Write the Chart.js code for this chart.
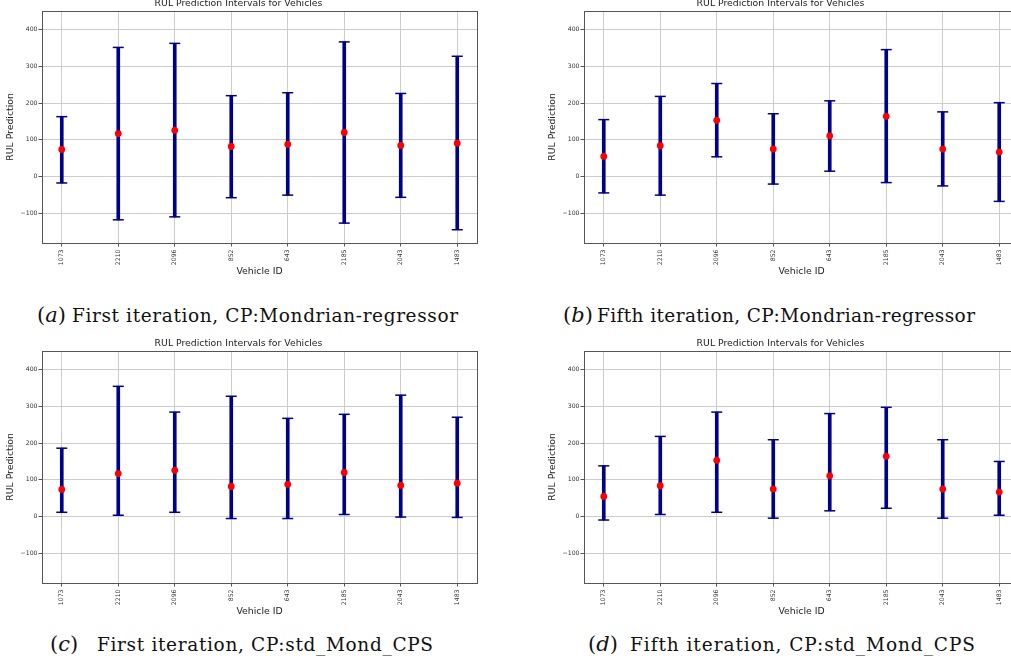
<!DOCTYPE html>
<html>
<head>
<meta charset="utf-8">
<script src="https://cdn.jsdelivr.net/npm/chart.js@4.4.1/dist/chart.umd.min.js"></script>
<style>
  body { margin: 0; width: 1011px; height: 669px; overflow: hidden; background: #fff; position: relative; }
  canvas { position: absolute; }
  .tag, .cap { position: absolute; white-space: nowrap; line-height: 1; color: #111; font-family: "DejaVu Serif", serif; }
  .tag { font-size: 21px; }
  .cap { font-size: 18.5px; }
</style>
</head>
<body>
<canvas id="pa" width="497" height="288" style="left:0px;top:-5px"></canvas>
<canvas id="pb" width="497" height="288" style="left:542px;top:-5px"></canvas>
<canvas id="pc" width="497" height="288" style="left:0px;top:335px"></canvas>
<canvas id="pd" width="497" height="288" style="left:542px;top:335px"></canvas>

<div class="tag" style="left:37px;top:305px">(<i>a</i>)</div>
<div class="cap" data-w="386" style="left:72px;top:307px">First iteration, CP:Mondrian-regressor</div>
<div class="tag" style="left:563px;top:305px">(<i>b</i>)</div>
<div class="cap" data-w="378" style="left:597px;top:307px">Fifth iteration, CP:Mondrian-regressor</div>
<div class="tag" style="left:50px;top:634px">(<i>c</i>)</div>
<div class="cap" data-w="336" style="left:97px;top:636px">First iteration, CP:std_Mond_CPS</div>
<div class="tag" style="left:588px;top:634px">(<i>d</i>)</div>
<div class="cap" data-w="345" style="left:630px;top:636px">Fifth iteration, CP:std_Mond_CPS</div>

<script>
// vehicles on the x axis, in plotting order
const vehicleIds = ['1073', '2210', '2096', '852', '643', '2185', '2043', '1483'];
const yTickValues = [-100, 0, 100, 200, 300, 400];

// point predictions (same model output for both CP methods)
const predFirst = [74, 117, 126, 82, 88, 120, 85, 91];
const predFifth = [55, 84, 153, 75, 111, 164, 75, 67];

// Mondrian regressor intervals
const mondFirstLow  = [-17, -117, -109, -57, -50, -126, -56, -144];
const mondFirstHigh = [163, 351, 362, 220, 228, 366, 226, 327];
const mondFifthLow  = [-44, -50, 54, -20, 15, -16, -25, -67];
const mondFifthHigh = [155, 218, 253, 171, 206, 345, 176, 201];

// std Mondrian CPS intervals
const cpsFirstLow  = [12, 4, 12, -5, -5, 6, -1, -2];
const cpsFirstHigh = [186, 354, 284, 327, 267, 278, 330, 270];
const cpsFifthLow  = [-9, 6, 12, -4, 16, 23, -4, 4];
const cpsFifthHigh = [138, 218, 284, 209, 280, 297, 209, 150];

Chart.defaults.font.family = 'DejaVu Sans';
Chart.defaults.color = '#222';

const NAVY = '#00008b';

// stretch caption lines to their set widths
document.querySelectorAll('.cap').forEach(el => {
  const w = el.getBoundingClientRect().width;
  const n = el.textContent.length - 1;
  el.style.letterSpacing = ((+el.dataset.w - w) / n) + 'px';
});

// matplotlib-style box around the axes
const frame = {
  id: 'frame',
  afterDraw(chart) {
    const { ctx, chartArea: a } = chart;
    ctx.save();
    ctx.strokeStyle = '#555';
    ctx.lineWidth = 1;
    ctx.strokeRect(Math.round(a.left) + 0.5, Math.round(a.top) + 0.5,
                   Math.round(a.right - a.left), Math.round(a.bottom - a.top));
    ctx.restore();
  }
};

function makePanel(id, low, high, pred) {
  const caps = low.map((v, i) => ({ x: i, y: v }))
    .concat(high.map((v, i) => ({ x: i, y: v })));

  new Chart(document.getElementById(id), {
    type: 'bar',
    data: {
      datasets: [
        {
          type: 'scatter',
          data: pred.map((v, i) => ({ x: i, y: v })),
          pointRadius: 3.4,
          pointBackgroundColor: '#ff0000',
          pointBorderWidth: 0,
          order: 0
        },
        {
          type: 'scatter',
          data: caps,
          pointStyle: 'line',
          pointRadius: 5.5,
          pointBorderColor: NAVY,
          pointBorderWidth: 1.5,
          order: 1
        },
        {
          type: 'bar',
          data: low.map((v, i) => ({ x: i, y: [v, high[i]] })),
          backgroundColor: NAVY,
          borderWidth: 0,
          barThickness: 3,
          order: 2
        }
      ]
    },
    options: {
      responsive: false,
      animation: false,
      events: [],
      layout: { padding: { left: 0, right: 20, top: 0, bottom: 0 } },
      plugins: {
        legend: { display: false },
        tooltip: { enabled: false },
        title: {
          display: true,
          text: 'RUL Prediction Intervals for Vehicles',
          font: { size: 9.3, weight: 'normal' },
          color: '#222',
          padding: { top: 3.4, bottom: 1.4 }
        }
      },
      scales: {
        x: {
          type: 'linear',
          min: -0.35,
          max: 7.35,
          offset: false,
          afterBuildTicks: s => { s.ticks = vehicleIds.map((_, i) => ({ value: i })); },
          afterFit: s => { s.height = 40; },
          ticks: {
            callback: v => vehicleIds[v],
            minRotation: 90,
            maxRotation: 90,
            autoSkip: false,
            padding: 3,
            font: { size: 6.2 },
            color: '#333'
          },
          grid: { color: '#cccccc', lineWidth: 1, tickLength: 3.5, tickColor: '#555', offset: false },
          border: { display: false },
          title: {
            display: true,
            text: 'Vehicle ID',
            font: { size: 9.3 },
            color: '#222',
            padding: { top: 0, bottom: 5.4 }
          }
        },
        y: {
          min: -180,
          max: 450,
          afterBuildTicks: s => { s.ticks = yTickValues.map(v => ({ value: v })); },
          afterFit: s => { s.width = 42; },
          ticks: {
            callback: v => (v < 0 ? '\u2212' + Math.abs(v) : String(v)),
            padding: 1,
            font: { size: 6.2 },
            color: '#333'
          },
          grid: { color: '#cccccc', lineWidth: 1, tickLength: 3.5, tickColor: '#555' },
          border: { display: false },
          title: {
            display: true,
            text: 'RUL Prediction',
            font: { size: 9.3 },
            color: '#222',
            padding: { top: 5.5, bottom: 0 }
          }
        }
      }
    },
    plugins: [frame]
  });
}

makePanel('pa', mondFirstLow, mondFirstHigh, predFirst);
makePanel('pb', mondFifthLow, mondFifthHigh, predFifth);
makePanel('pc', cpsFirstLow, cpsFirstHigh, predFirst);
makePanel('pd', cpsFifthLow, cpsFifthHigh, predFifth);
</script>
</body>
</html>
